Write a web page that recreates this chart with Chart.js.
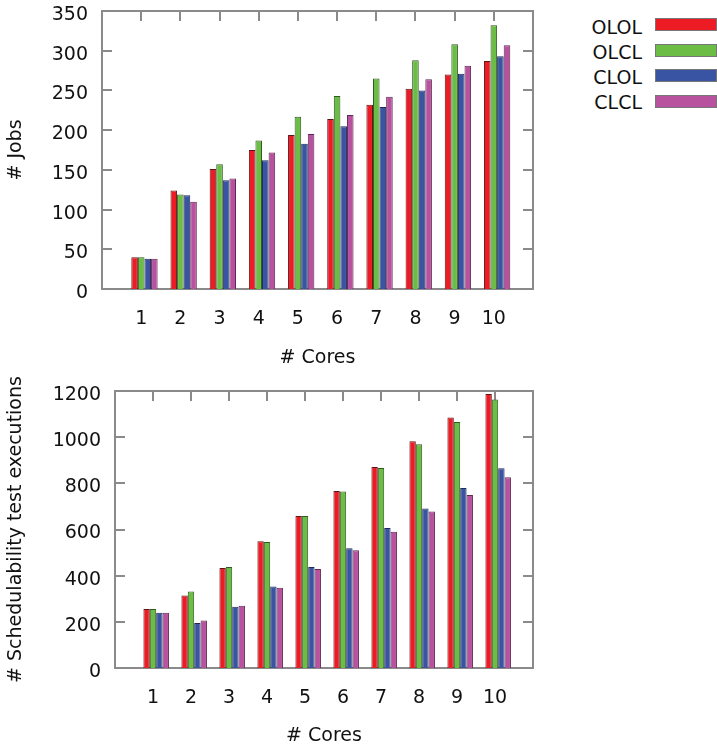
<!DOCTYPE html>
<html>
<head>
<meta charset="utf-8">
<script src="https://cdn.jsdelivr.net/npm/chart.js@4.4.1/dist/chart.umd.min.js"></script>
<style>
  html, body { margin: 0; padding: 0; background: #fff; }
  body { width: 717px; height: 745px; position: relative; overflow: hidden; font-family: "DejaVu Sans", sans-serif; }
  canvas { position: absolute; left: 0; }
  #jobsChart { top: 0; }
  #testsChart { top: 375px; }
  .lg-text { position: absolute; right: 75px; font-size: 19px; line-height: 22px; color: #111; white-space: nowrap; }
  .lg-box { position: absolute; left: 655px; width: 60px; height: 11px; border: 1px solid #777; }
</style>
</head>
<body>
<canvas id="jobsChart" width="545" height="375"></canvas>
<canvas id="testsChart" width="545" height="372"></canvas>
<div id="legend"></div>
<script>
const cores = [1, 2, 3, 4, 5, 6, 7, 8, 9, 10];
const seriesNames = ['OLOL', 'OLCL', 'CLOL', 'CLCL'];
const seriesColors = ['#ed1c24', '#6cbd45', '#3a54a4', '#b8529e'];
const seriesBorders = ['#5e1518', '#2f5a22', '#1e2b58', '#5c2a52'];

// # Jobs
const jobsOLOL = [40, 124, 151, 175, 194, 214, 232, 252, 270, 287];
const jobsOLCL = [40, 119, 157, 187, 217, 243, 265, 288, 308, 332];
const jobsCLOL = [38, 118, 137, 162, 183, 205, 229, 250, 271, 293];
const jobsCLCL = [38, 110, 139, 172, 195, 219, 242, 264, 281, 307];

// # Schedulability test executions
const testsOLOL = [256, 314, 433, 549, 658, 767, 871, 982, 1085, 1187];
const testsOLCL = [256, 331, 438, 546, 658, 765, 866, 969, 1066, 1163];
const testsCLOL = [239, 195, 265, 353, 438, 519, 606, 691, 780, 865];
const testsCLCL = [239, 206, 270, 348, 429, 510, 590, 678, 749, 826];

const FONT = { family: '"DejaVu Sans", sans-serif', size: 19 };

// frame + inward ticks on all four sides (gnuplot style)
const framePlugin = {
    id: 'frame',
    beforeDatasetsDraw(chart) {
        const { ctx, chartArea: a, scales } = chart;
        const len = 10;
        ctx.save();
        ctx.strokeStyle = '#8a8a8a';
        ctx.lineWidth = 2;
        ctx.beginPath();
        scales.y.ticks.forEach(t => {
            const y = Math.round(scales.y.getPixelForValue(t.value));
            ctx.moveTo(a.left, y); ctx.lineTo(a.left + len, y);
            ctx.moveTo(a.right, y); ctx.lineTo(a.right - len, y);
        });
        cores.forEach(c => {
            const x = Math.round(scales.x.getPixelForValue(c));
            ctx.moveTo(x, a.top); ctx.lineTo(x, a.top + len);
            ctx.moveTo(x, a.bottom); ctx.lineTo(x, a.bottom - len);
        });
        ctx.stroke();
        ctx.strokeRect(a.left, a.top, a.right - a.left, a.bottom - a.top);
        ctx.restore();
    }
};

function makeChart(id, series, yMax, yStep, yTitle, geo) {
    // empty leading slot mimics gnuplot's clustered histogram gap
    const datasets = [{ label: '', data: cores.map(c => ({ x: c, y: null })) }];
    series.forEach((vals, i) => {
        datasets.push({
            label: seriesNames[i],
            data: cores.map((c, j) => ({ x: c, y: vals[j] })),
            backgroundColor: seriesColors[i],
            borderColor: seriesBorders[i],
            borderWidth: 1
        });
    });

    return new Chart(document.getElementById(id), {
        type: 'bar',
        data: { datasets },
        options: {
            responsive: false,
            animation: false,
            events: [],
            categoryPercentage: 0.84,
            barPercentage: 1,
            layout: { padding: { top: geo.top, right: geo.right, left: 0, bottom: 0 } },
            plugins: { legend: { display: false }, tooltip: { enabled: false } },
            scales: {
                x: {
                    type: 'linear',
                    min: 0,
                    max: 11,
                    offset: false,
                    grid: { display: false },
                    border: { display: false },
                    ticks: {
                        stepSize: 1, color: '#111', font: FONT, padding: 11, maxRotation: 0,
                        callback: v => (v >= 1 && v <= 10 ? String(v) : '')
                    },
                    title: { display: true, text: '# Cores', color: '#111', font: FONT, padding: { top: 0, bottom: geo.titleBottom } },
                    afterFit: s => { s.height = geo.xHeight; s.paddingLeft = 0; s.paddingRight = 0; }
                },
                y: {
                    min: 0,
                    max: yMax,
                    grid: { display: false },
                    border: { display: false },
                    ticks: { stepSize: yStep, color: '#111', font: FONT, padding: 6, labelOffset: 4, callback: v => String(v) },
                    title: { display: true, text: yTitle, color: '#111', font: FONT, padding: { top: 5, bottom: 0 } },
                    afterFit: s => { s.width = geo.yWidth; s.paddingTop = 0; s.paddingBottom = 0; }
                }
            }
        },
        plugins: [framePlugin]
    });
}

makeChart('jobsChart', [jobsOLOL, jobsOLCL, jobsCLOL, jobsCLCL], 350, 50, '# Jobs',
    { top: 11, right: 12, yWidth: 102, xHeight: 86, titleBottom: 6 });

makeChart('testsChart', [testsOLOL, testsOLCL, testsCLOL, testsCLCL], 1200, 200, '# Schedulability test executions',
    { top: 16, right: 12, yWidth: 115, xHeight: 79, titleBottom: 0 });

// legend: label then colour box, top right
const legend = document.getElementById('legend');
seriesNames.forEach((name, i) => {
    const t = document.createElement('div');
    t.className = 'lg-text';
    t.textContent = name;
    t.style.top = (26.5 + 25.3 * i - 11) + 'px';
    legend.appendChild(t);
    const b = document.createElement('div');
    b.className = 'lg-box';
    b.style.background = seriesColors[i];
    b.style.top = (24.2 + 25.5 * i - 6) + 'px';
    legend.appendChild(b);
});
</script>
</body>
</html>
